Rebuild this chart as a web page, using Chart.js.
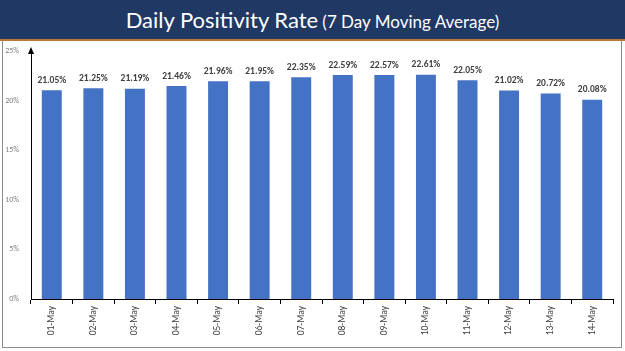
<!DOCTYPE html>
<html><head><meta charset="utf-8">
<script src="https://cdn.jsdelivr.net/npm/chart.js@4"></script>
<style>
html,body{margin:0;padding:0;background:#fff;}
#wrap{position:relative;width:625px;height:351px;overflow:hidden;background:#fff;}
#title{position:absolute;left:0;top:0;width:625px;height:39px;background:#1f3864;border-bottom:2px solid #b9793a;color:#fff;font-family:Lato,"Open Sans",sans-serif;text-align:center;line-height:40px;white-space:nowrap;}
#title .big{font-size:22px;}
#title .small{font-size:17px;}
#box{position:absolute;left:2px;top:41px;width:618px;height:306px;border:1px solid #8c8c8c;border-top:none;}
#c{position:absolute;left:0;top:0;}
</style></head>
<body><div id="wrap">
<div id="title"><span class="big">Daily Positivity Rate</span> <span class="small">(7 Day Moving Average)</span></div>
<div id="box"><canvas id="c" width="618" height="306"></canvas></div>
</div>
<script>
const categories = ["01-May","02-May","03-May","04-May","05-May","06-May","07-May","08-May","09-May","10-May","11-May","12-May","13-May","14-May"];
const positivity = [21.05,21.25,21.19,21.46,21.96,21.95,22.35,22.59,22.57,22.61,22.05,21.02,20.72,20.08];
const yTicks = [0,5,10,15,20,25];

const labelPlugin = {
  id:'labels',
  afterDatasetsDraw(chart){
    const ctx = chart.ctx;
    const meta = chart.getDatasetMeta(0);
    ctx.save();
    ctx.font = 'bold 9.5px Calibri, "Open Sans", Lato, sans-serif';
    ctx.fillStyle = '#404040';
    ctx.textAlign = 'center';
    ctx.textBaseline = 'bottom';
    meta.data.forEach((bar,i)=>{
      ctx.fillText(positivity[i].toFixed(2)+'%', bar.x, bar.y - 5);
    });
    ctx.restore();
  }
};
const arrowPlugin = {
  id:'arrow',
  afterDraw(chart){
    const ctx = chart.ctx;
    const x = chart.scales.x.left;
    const top = chart.chartArea.top;
    ctx.save();
    ctx.fillStyle = '#000';
    ctx.beginPath();
    ctx.moveTo(x, top-4);
    ctx.lineTo(x-3, top+3);
    ctx.lineTo(x+3, top+3);
    ctx.closePath();
    ctx.fill();
    ctx.restore();
  }
};

new Chart(document.getElementById('c'), {
  type:'bar',
  data:{labels:categories, datasets:[{data:positivity, backgroundColor:'#4472c4', barPercentage:0.8, categoryPercentage:0.6}]},
  options:{
    responsive:false, animation:false,
    layout:{padding:{top:10,right:8,left:0,bottom:0}},
    plugins:{legend:{display:false}, tooltip:{enabled:false}},
    scales:{
      x:{
        grid:{display:true, drawOnChartArea:false, drawTicks:true, tickLength:5, color:'#000', offset:true},
        border:{display:true, color:'#000', width:1},
        ticks:{minRotation:90, maxRotation:90, color:'#404040', font:{size:9.5, family:'Calibri, "Open Sans", sans-serif'}, padding:2},
        afterFit(s){ s.height = 48; }
      },
      y:{
        min:0, max:25,
        afterBuildTicks(s){ s.ticks = yTicks.map(v=>({value:v})); },
        grid:{display:false},
        border:{display:true, color:'#000', width:1},
        ticks:{callback:v=>v+'%', color:'#808080', font:{size:8, family:'Calibri, "Open Sans", sans-serif'}, padding:4},
        afterFit(s){ s.width = 28; }
      }
    }
  },
  plugins:[labelPlugin, arrowPlugin]
});
</script>
</body></html>
